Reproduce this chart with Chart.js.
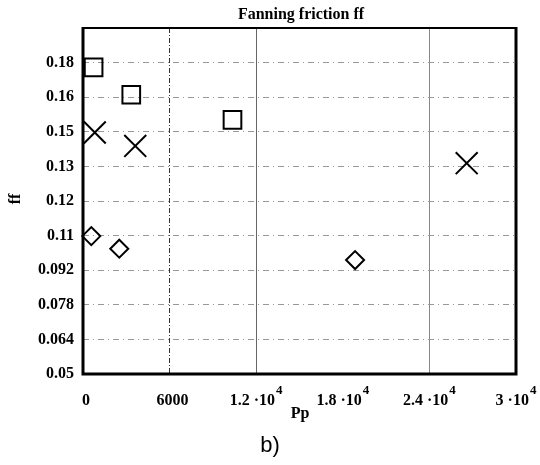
<!DOCTYPE html>
<html>
<head>
<meta charset="utf-8">
<script src="https://cdn.jsdelivr.net/npm/chart.js@4"></script>
<style>
  html, body { margin: 0; padding: 0; background: #fff; }
  #wrap { width: 540px; height: 465px; }
</style>
</head>
<body>
<div id="wrap"><canvas id="ffChart" width="540" height="465"></canvas></div>
<script>
// data (Pp on x, ff on y)
const squarePp = [734, 3344, 10357];
const squareFf = [0.1741, 0.1630, 0.1528];
const crossPp = [817, 3621, 26584];
const crossFf = [0.1477, 0.1423, 0.1353];
const diamondPp = [575, 2513, 18851];
const diamondFf = [0.1058, 0.1007, 0.0961];

const xTickValues = [0, 6000, 12000, 18000, 24000, 30000];
const xTickBase = ['0', '6000', '1.2 ·10', '1.8 ·10', '2.4 ·10', '3 ·10'];
const xTickSup = ['', '', '4', '4', '4', '4'];
const yTickValues = [0.05, 0.064, 0.078, 0.092, 0.106, 0.12, 0.134, 0.148, 0.162, 0.176];
const yTickLabels = ['0.05', '0.064', '0.078', '0.092', '0.11', '0.12', '0.13', '0.15', '0.16', '0.18'];

const serif = '"Liberation Serif", "DejaVu Serif", serif';
const tickFont = { family: serif, size: 16, weight: 'bold' };

function toPoints(xs, ys) {
  return xs.map((x, i) => ({ x: x, y: ys[i] }));
}

// frame around the plot + free text (title, x tick labels with exponents, axis names, panel letter)
const framePlugin = {
  id: 'frameAndText',
  afterDraw(chart) {
    const { ctx, chartArea: a } = chart;
    const xs = chart.scales.x;
    ctx.save();
    ctx.setLineDash([]);
    ctx.strokeStyle = '#000';
    ctx.lineWidth = 2;
    ctx.beginPath();
    ctx.moveTo(a.left, a.top);
    ctx.lineTo(a.right, a.top);
    ctx.stroke();
    ctx.lineWidth = 3;
    ctx.beginPath();
    ctx.moveTo(a.left, a.top - 1);
    ctx.lineTo(a.left, a.bottom);
    ctx.lineTo(a.right, a.bottom);
    ctx.lineTo(a.right, a.top - 1);
    ctx.stroke();

    ctx.fillStyle = '#000';
    ctx.textBaseline = 'alphabetic';

    // x tick labels, exponent raised
    const baseFont = 'bold 16px ' + serif;
    const supFont = 'bold 13px ' + serif;
    xTickValues.forEach((v, i) => {
      const px = xs.getPixelForValue(v);
      ctx.font = baseFont;
      const wb = ctx.measureText(xTickBase[i]).width;
      ctx.font = supFont;
      const ws = xTickSup[i] ? ctx.measureText(xTickSup[i]).width + 1 : 0;
      const left = px + 3 - (wb + ws) / 2 - (ws ? 3 : 0);
      ctx.textAlign = 'left';
      ctx.font = baseFont;
      ctx.fillText(xTickBase[i], left, 405);
      if (ws) {
        ctx.font = supFont;
        ctx.fillText(xTickSup[i], left + wb + 1, 394);
      }
    });

    ctx.textAlign = 'center';
    ctx.font = 'bold 16px ' + serif;
    ctx.fillText('Fanning friction ff', 301, 19);

    ctx.font = 'bold 16px ' + serif;
    ctx.fillText('Pp', 300, 418);

    ctx.save();
    ctx.translate(20, 199);
    ctx.rotate(-Math.PI / 2);
    ctx.fillText('ff', 0, 0);
    ctx.restore();

    ctx.font = '22px "Liberation Sans", sans-serif';
    ctx.fillText('b)', 270, 452);
    ctx.restore();
  }
};

new Chart(document.getElementById('ffChart'), {
  type: 'scatter',
  data: {
    datasets: [
      {
        label: 'square',
        data: toPoints(squarePp, squareFf),
        pointStyle: 'rect',
        pointRadius: 12.5,
        borderColor: '#000',
        backgroundColor: 'rgba(255,255,255,0)',
        borderWidth: 2,
        clip: false
      },
      {
        label: 'cross',
        data: toPoints(crossPp, crossFf),
        pointStyle: 'crossRot',
        pointRadius: 15.5,
        borderColor: '#000',
        borderWidth: 2,
        clip: false
      },
      {
        label: 'diamond',
        data: toPoints(diamondPp, diamondFf),
        pointStyle: 'rectRot',
        pointRadius: 9,
        borderColor: '#000',
        backgroundColor: 'rgba(255,255,255,0)',
        borderWidth: 2,
        clip: false
      }
    ]
  },
  options: {
    responsive: false,
    animation: false,
    layout: { padding: { top: 28, right: 24, left: 0, bottom: 0 } },
    plugins: {
      legend: { display: false },
      title: { display: false },
      tooltip: { enabled: false }
    },
    scales: {
      x: {
        type: 'linear',
        min: 0,
        max: 30000,
        afterBuildTicks: (scale) => { scale.ticks = xTickValues.map(v => ({ value: v })); },
        afterFit: (scale) => {
          scale.height = 91;
          scale.paddingLeft = 0;
          scale.paddingRight = 0;
        },
        ticks: { display: false },
        grid: {
          drawTicks: false,
          lineWidth: 1,
          color: (ctx) => {
            const v = ctx.tick && ctx.tick.value;
            if (v === 6000) return '#333';
            if (v === 12000) return '#666';
            if (v === 24000) return '#888';
            return 'rgba(0,0,0,0)';
          }
        },
        border: {
          display: false,
          dash: (ctx) => (ctx.tick && ctx.tick.value === 6000) ? [5, 2, 1, 2] : []
        }
      },
      y: {
        type: 'linear',
        min: 0.05,
        max: 0.19,
        afterBuildTicks: (scale) => { scale.ticks = yTickValues.map(v => ({ value: v })); },
        afterFit: (scale) => {
          scale.width = 83;
          scale.paddingTop = 0;
          scale.paddingBottom = 0;
        },
        ticks: {
          padding: 9,
          color: '#000',
          font: tickFont,
          autoSkip: false,
          callback: (value, index) => yTickLabels[index]
        },
        grid: {
          drawTicks: false,
          lineWidth: 1,
          color: (ctx) => (ctx.tick && ctx.tick.value === 0.05) ? 'rgba(0,0,0,0)' : '#999'
        },
        border: {
          display: false,
          dash: [6, 4, 1, 4]
        }
      }
    }
  },
  plugins: [framePlugin]
});
</script>
</body>
</html>
